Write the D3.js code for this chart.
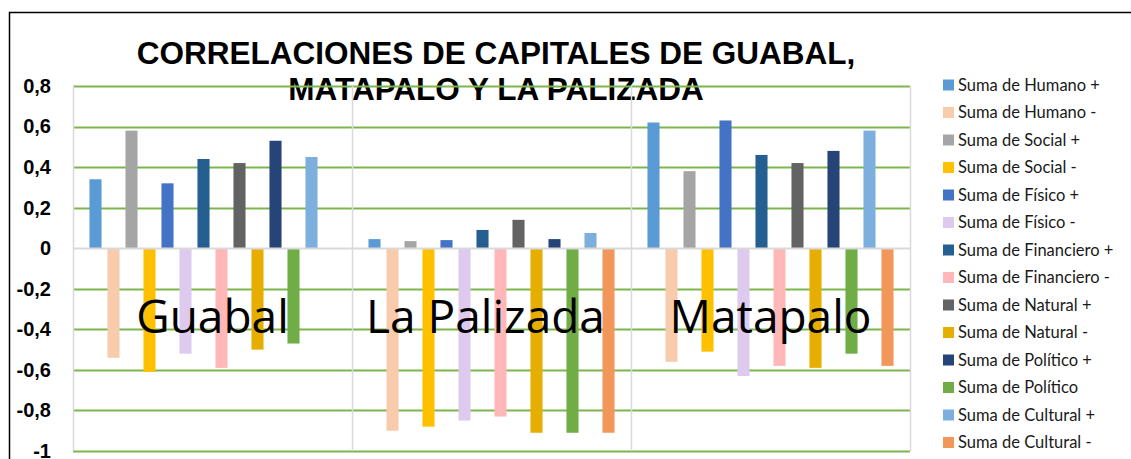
<!DOCTYPE html>
<html>
<head>
<meta charset="utf-8">
<script src="https://cdn.jsdelivr.net/npm/d3@7"></script>
<style>
  body { margin: 0; background: #fff; }
  svg { display: block; }
</style>
</head>
<body>
<div id="chart"></div>
<script>
// Data
const categories = ["Guabal", "La Palizada", "Matapalo"];
const seriesNames = [
    "Suma de Humano +", "Suma de Humano -", "Suma de Social +", "Suma de Social -",
    "Suma de Físico +", "Suma de Físico -", "Suma de Financiero +", "Suma de Financiero -",
    "Suma de Natural +", "Suma de Natural -", "Suma de Político +", "Suma de Político",
    "Suma de Cultural +", "Suma de Cultural -"
];
const seriesColors = [
    "#5B9BD5", "#F8CBAD", "#A5A5A5", "#FFC000",
    "#4472C4", "#DDCAEE", "#255E91", "#FFB7B7",
    "#636363", "#E5AE00", "#264478", "#70AD47",
    "#7CAFDD", "#F1975A"
];
const guabalValues = [0.34, -0.54, 0.58, -0.61, 0.32, -0.52, 0.44, -0.59, 0.42, -0.50, 0.53, -0.47, 0.45, 0];
const palizadaValues = [0.045, -0.90, 0.035, -0.88, 0.04, -0.85, 0.09, -0.83, 0.14, -0.91, 0.045, -0.91, 0.075, -0.91];
const matapaloValues = [0.62, -0.56, 0.38, -0.51, 0.63, -0.63, 0.46, -0.58, 0.42, -0.59, 0.48, -0.52, 0.58, -0.58];
const yTicks = [0.8, 0.6, 0.4, 0.2, 0, -0.2, -0.4, -0.6, -0.8, -1];

const valuesByCategory = {
    "Guabal": guabalValues,
    "La Palizada": palizadaValues,
    "Matapalo": matapaloValues
};

const width = 1131, height = 459;
const margin = { top: 86, right: 221, bottom: 8, left: 73 };
const plotWidth = width - margin.left - margin.right;
const plotHeight = height - margin.top - margin.bottom;

const svg = d3.select("#chart")
    .append("svg")
    .attr("width", width)
    .attr("height", height);

// Outer frame (only top/left visible)
svg.append("path")
    .attr("d", `M9.5,${height} L9.5,12.5 L${width},12.5`)
    .attr("fill", "none")
    .attr("stroke", "#000")
    .attr("stroke-width", 1.5);

// Title
svg.append("text")
    .attr("text-anchor", "middle")
    .style("font-family", "'Liberation Sans', Arial, sans-serif")
    .style("font-weight", "bold")
    .style("font-size", "31.5px")
    .selectAll("tspan")
    .data(["CORRELACIONES DE CAPITALES DE GUABAL,", "MATAPALO Y LA PALIZADA"])
    .enter()
    .append("tspan")
    .attr("x", 496)
    .attr("y", (d, i) => 64 + i * 36)
    .text(d => d);

const g = svg.append("g")
    .attr("transform", `translate(${margin.left}, ${margin.top})`);

// Scales
const x0 = d3.scaleBand()
    .domain(categories)
    .range([0, plotWidth])
    .padding(0);

const x1 = d3.scaleBand()
    .domain(seriesNames)
    .range([0, x0.bandwidth()])
    .paddingInner(0.33)
    .paddingOuter(0.915);

const y = d3.scaleLinear()
    .domain([-1, 0.8])
    .range([plotHeight, 0]);

// Horizontal gridlines
g.selectAll(".hgrid")
    .data(yTicks.filter(d => d !== 0))
    .enter()
    .append("line")
    .attr("x1", 0)
    .attr("x2", plotWidth)
    .attr("y1", d => Math.round(y(d)) + 0.5)
    .attr("y2", d => Math.round(y(d)) + 0.5)
    .attr("stroke", "#7DB54E")
    .attr("stroke-width", 2);

// Vertical category dividers
g.selectAll(".vgrid")
    .data(categories.map(c => x0(c)).concat([plotWidth]))
    .enter()
    .append("line")
    .attr("x1", d => Math.round(d) + 0.5)
    .attr("x2", d => Math.round(d) + 0.5)
    .attr("y1", 0)
    .attr("y2", plotHeight)
    .attr("stroke", "#D9D9D9")
    .attr("stroke-width", 1.5);

// Bars
const groups = g.selectAll(".cat")
    .data(categories)
    .enter()
    .append("g")
    .attr("transform", d => `translate(${x0(d)}, 0)`);

groups.selectAll("rect")
    .data(c => seriesNames.map((s, i) => ({ series: s, value: valuesByCategory[c][i], color: seriesColors[i] })))
    .enter()
    .append("rect")
    .attr("x", d => x1(d.series))
    .attr("width", x1.bandwidth())
    .attr("y", d => y(Math.max(0, d.value)))
    .attr("height", d => Math.abs(y(d.value) - y(0)))
    .attr("fill", d => d.color);

// Zero line
g.append("line")
    .attr("x1", 0)
    .attr("x2", plotWidth)
    .attr("y1", Math.round(y(0)) + 0.5)
    .attr("y2", Math.round(y(0)) + 0.5)
    .attr("stroke", "#D9D9D9")
    .attr("stroke-width", 2);

// Y axis labels
const yAxis = d3.axisLeft(y)
    .tickValues(yTicks)
    .tickSize(0)
    .tickPadding(22)
    .tickFormat(d => String(d).replace(".", ","));

g.append("g")
    .call(yAxis)
    .call(a => a.select(".domain").remove())
    .selectAll("text")
    .style("font-family", "'Liberation Sans', Arial, sans-serif")
    .style("font-weight", "bold")
    .style("font-size", "20px")
    .attr("fill", "#000");

// Category labels overlaid on the bars
g.selectAll(".cat-label")
    .data(categories)
    .enter()
    .append("text")
    .attr("x", d => x0(d) + x0.bandwidth() / 2)
    .attr("dx", d => d === "La Palizada" ? -6 : 0)
    .attr("y", 247)
    .attr("text-anchor", "middle")
    .style("font-family", "'Open Sans', sans-serif")
    .style("font-size", "46px")
    .attr("fill", "#000")
    .text(d => d);

// Legend
const legend = svg.append("g")
    .attr("transform", "translate(943, 85)");

const legendItems = legend.selectAll(".legend-item")
    .data(seriesNames)
    .enter()
    .append("g")
    .attr("transform", (d, i) => `translate(0, ${i * 27.5})`);

legendItems.append("rect")
    .attr("x", 0)
    .attr("y", -5.5)
    .attr("width", 11)
    .attr("height", 11)
    .attr("fill", (d, i) => seriesColors[i]);

legendItems.append("text")
    .attr("x", 15)
    .attr("y", 0)
    .attr("dy", "0.35em")
    .style("font-family", "Lato, sans-serif")
    .style("font-size", "16.5px")
    .attr("fill", "#1a1a1a")
    .text(d => d);
</script>
</body>
</html>
